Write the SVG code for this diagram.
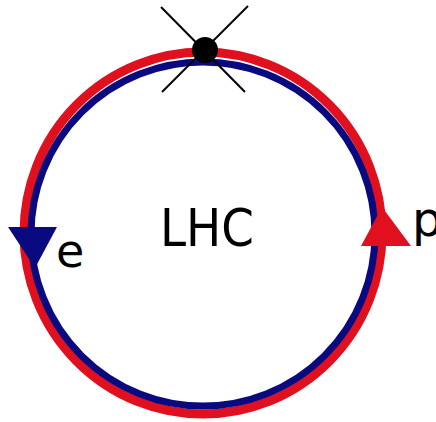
<svg xmlns="http://www.w3.org/2000/svg" width="436" height="422" viewBox="0 0 436 422">
<style>
.lbl{font-family:"DejaVu Sans","Liberation Sans",sans-serif;fill:#000}
.ring{fill:none}
</style>
<rect width="436" height="422" fill="#fff"/>
<g id="ring">
<ellipse class="ring" cx="203" cy="233" rx="179" ry="181" stroke="#e0101e" stroke-width="9"/>
<ellipse class="ring" cx="203" cy="234" rx="172" ry="172" stroke="#0a0a80" stroke-width="7"/>
</g>
<g id="connectors">
<line x1="161" y1="7" x2="245" y2="92" stroke="#000" stroke-width="2"/>
<line x1="248" y1="6" x2="162" y2="92" stroke="#000" stroke-width="2"/>
</g>
<g id="collision">
<circle cx="205" cy="50" r="13" fill="#000"/>
</g>
<g id="electron">
<polygon points="8,227 57,227 35,268" fill="#0a0a80"/>
<text class="lbl" x="56" y="267" font-size="46">e</text>
</g>
<g id="proton">
<polygon points="382,207 361,246 411,246" fill="#e0101e"/>
<text class="lbl" x="412" y="236" font-size="48">p</text>
</g>
<g id="lhc">
<text class="lbl" x="160" y="246" font-size="52" textLength="94" lengthAdjust="spacingAndGlyphs">LHC</text>
</g>
</svg>
